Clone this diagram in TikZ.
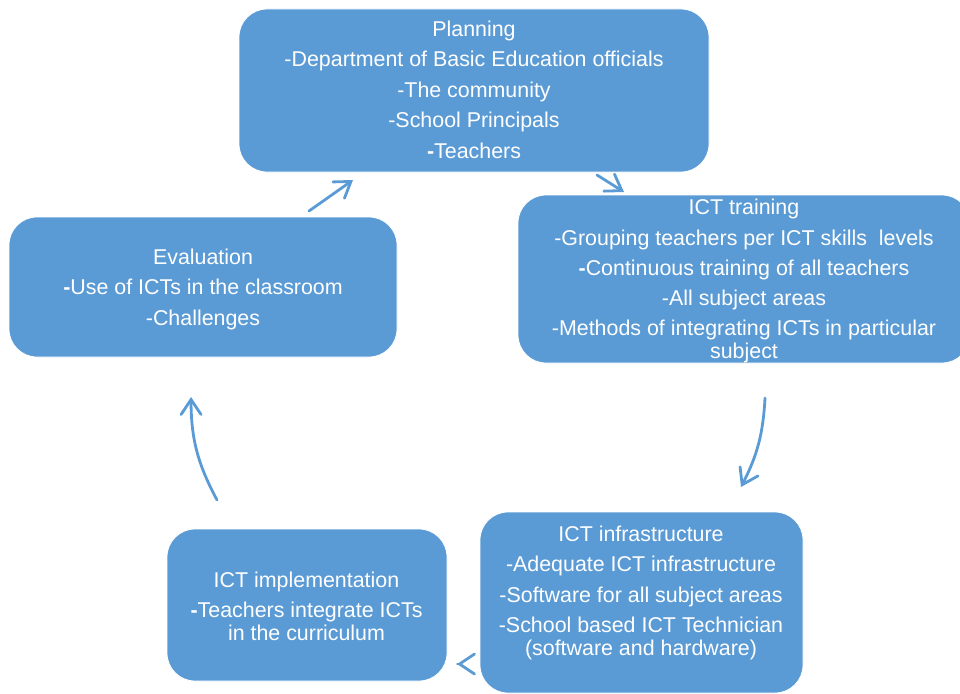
\documentclass[tikz,border=0pt]{standalone}
\usepackage{fontspec}
\setmainfont{Liberation Sans}
\usetikzlibrary{arrows.meta}
\definecolor{cycleblue}{HTML}{5B9BD5}
\tikzset{
  stagebox/.style={rectangle, rounded corners=28pt, fill=cycleblue, draw=white,
    line width=0.8pt, inner sep=0pt, outer sep=0pt},
  stagetext/.style={text=white, align=center, inner sep=0pt,
    font=\fontsize{21.4}{23}\selectfont},
  flow/.style={draw=cycleblue, line width=2.8pt, line cap=round,
    -{Straight Barb[length=15pt, width=20pt, line cap=round]}},
}
\newcommand{\bh}{\textbf{-}}
\begin{document}
\begin{tikzpicture}[x=1pt, y=-1pt]
\useasboundingbox (0,0) rectangle (960,693);
\clip (0,0) rectangle (960,693);

% stage boxes
\node[stagebox, minimum width=470pt, minimum height=163pt] (plan)  at (474,90.5) {};
\node[stagebox, minimum width=452pt, minimum height=168pt] (train) at (744,279) {};
\node[stagebox, minimum width=388pt, minimum height=140pt] (eval)  at (203,287) {};
\node[stagebox, minimum width=323pt, minimum height=181pt] (infra) at (641.5,602.5) {};
\node[stagebox, minimum width=280pt, minimum height=152pt] (impl)  at (307,605) {};

% stage texts
\node[stagetext] (plantxt) at (474,90) {Planning\\[7.5pt]
  -Department of Basic Education officials\\[7.5pt]
  -The community\\[7.5pt]
  -School Principals\\[8pt]
  \bh Teachers};
\node[stagetext] (traintxt) at (744,281) {ICT training\\[7.5pt]
  -Grouping teachers per ICT skills\ \ levels\\[7pt]
  \bh Continuous training of all teachers\\[7pt]
  -All subject areas\\[7.5pt]
  -Methods of integrating ICTs in particular\\
  subject};
\node[stagetext] (evaltxt) at (203,289.5) {Evaluation\\[7pt]
  \bh Use of ICTs in the classroom\\[7.5pt]
  -Challenges};
\node[stagetext] (infratxt) at (641,593) {ICT infrastructure\\[6.5pt]
  -Adequate ICT infrastructure\\[8.5pt]
  -Software for all subject areas\\[7pt]
  -School based ICT Technician\\
  (software and hardware)};
\node[stagetext] (impltxt) at (306.5,606) {ICT implementation\\[7pt]
  \bh Teachers integrate ICTs\\
  in the curriculum};

% connector end points
\coordinate (a1s) at (309,211);
\coordinate (a1e) at (353,180);
\coordinate (a2s) at (597,175);
\coordinate (a2e) at (624,192);
\coordinate (a3s) at (765,398);
\coordinate (a3e) at (741,487);
\coordinate (a4e) at (457,664);
\coordinate (a5s) at (217,500);
\coordinate (a5e) at (191,397);

% cycle connectors
\draw[flow] (a1s) -- (a1e);
\draw[flow] (a2s) -- (a2e);
\draw[flow] (a3s) to[bend left=12] (a3e);
\draw[flow, shorten <=22.6pt] (infra.west |- a4e) -- (a4e);
\draw[flow] (a5s) to[bend left=14] (a5e);
\end{tikzpicture}
\end{document}
